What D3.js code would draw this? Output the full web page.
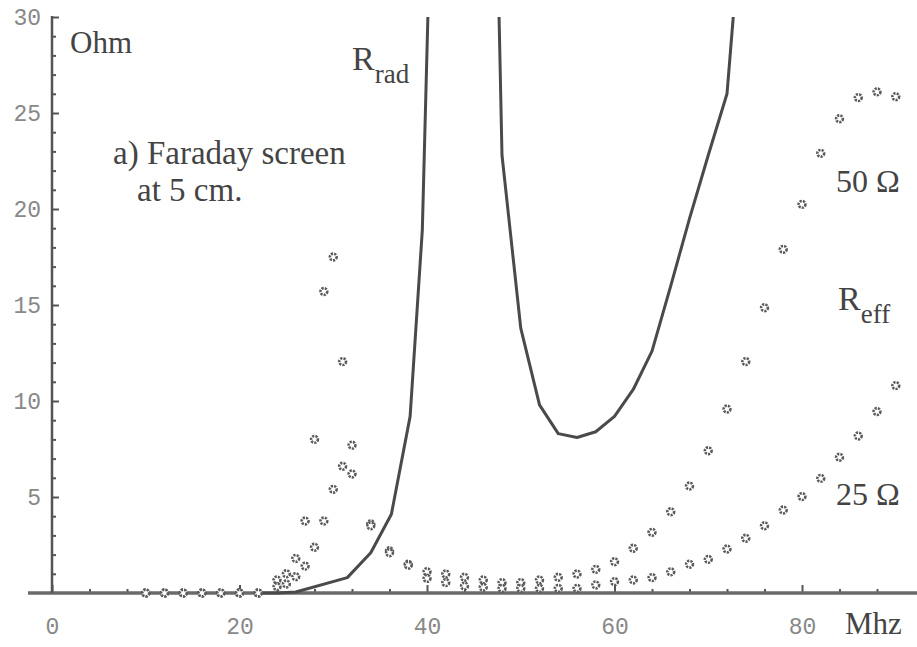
<!DOCTYPE html>
<html>
<head>
<meta charset="utf-8">
<script src="https://cdn.jsdelivr.net/npm/d3@7"></script>
<style>
  body { margin: 0; background: #fff; }
  svg { display: block; }
  .tick text { font-family: 'Liberation Mono', 'Courier New', monospace; font-size: 23px; fill: #888; }
  .lbl { font-family: 'Liberation Serif', 'Times New Roman', serif; fill: #444; }
</style>
</head>
<body>
<div id="chart"></div>
<script>
// frequencies (MHz) at which R_eff was computed
const freq = [10, 12, 14, 16, 18, 20, 22, 24, 25, 26, 27, 28, 29, 30, 31, 32,
  34, 36, 38, 40, 42, 44, 46, 48, 50, 52, 54, 56, 58, 60, 62, 64, 66, 68, 70,
  72, 74, 76, 78, 80, 82, 84, 86, 88, 90];

// R_eff, 50 Ohm load
const reff50 = [0, 0, 0, 0, 0, 0, 0, 0.68, 1.0, 1.8, 3.75, 8.0, 15.7, 17.5, 12.05, 7.7,
  3.6, 2.2, 1.5, 1.11, 0.99, 0.82, 0.68, 0.54, 0.54, 0.68, 0.82, 0.99, 1.23, 1.63, 2.33,
  3.16, 4.23, 5.57, 7.41, 9.58, 12.05, 14.86, 17.9, 20.24, 22.9, 24.7, 25.8, 26.1, 25.85];

// R_eff, 25 Ohm load
const reff25 = [0, 0, 0, 0, 0, 0, 0, 0.33, 0.47, 0.85, 1.4, 2.38, 3.75, 5.4, 6.6, 6.2,
  3.5, 2.1, 1.45, 0.76, 0.54, 0.36, 0.3, 0.24, 0.24, 0.24, 0.24, 0.24, 0.42, 0.59, 0.68,
  0.8, 1.1, 1.5, 1.75, 2.29, 2.85, 3.5, 4.32, 5.02, 5.97, 7.07, 8.18, 9.45, 10.8];

// R_rad, below and above the resonance
const radFreqLow = [22, 24, 26, 31.5, 34, 36.2, 38.2, 39.5, 40.2];
const radLow = [0, 0, 0.05, 0.8, 2.1, 4.1, 9.2, 18.9, 32];
const radFreqHigh = [47.6, 48, 50, 52, 54, 56, 58, 60, 62, 64, 66, 68, 70, 72, 73];
const radHigh = [32, 22.8, 13.8, 9.8, 8.3, 8.1, 8.4, 9.2, 10.6, 12.6, 16.0, 19.5, 22.8, 26.0, 32];

const xTicks = [0, 20, 40, 60, 80];
const yTicks = [5, 10, 15, 20, 25, 30];

const W = 917, H = 647;
const x0 = 52, y0 = 593;

const x = d3.scaleLinear().domain([0, 80]).range([x0, x0 + 750]);
const y = d3.scaleLinear().domain([0, 30]).range([y0, 17]);

const svg = d3.select('#chart').append('svg').attr('width', W).attr('height', H);

// axes
const xMinor = d3.range(4, 89, 4).filter(v => v % 20 !== 0);
const yMinor = d3.range(1, 30, 1).filter(v => v % 5 !== 0);

const gx = svg.append('g').attr('transform', `translate(0,${y0})`);
gx.call(d3.axisBottom(x).tickValues(xMinor).tickSizeInner(-4).tickSizeOuter(0).tickFormat(''));
gx.select('.domain').remove();
const gxMaj = svg.append('g').attr('transform', `translate(0,${y0})`);
gxMaj.call(d3.axisBottom(x).tickValues(xTicks).tickSizeInner(-8).tickSizeOuter(0).tickPadding(25));
gxMaj.select('.domain').remove();

const gy = svg.append('g').attr('transform', `translate(${x0},0)`);
gy.call(d3.axisLeft(y).tickValues(yMinor).tickSizeInner(-4).tickSizeOuter(0).tickFormat(''));
gy.select('.domain').remove();
const gyMaj = svg.append('g').attr('transform', `translate(${x0},0)`);
gyMaj.call(d3.axisLeft(y).tickValues(yTicks).tickSizeInner(-7).tickSizeOuter(0).tickPadding(11));
gyMaj.select('.domain').remove();

svg.selectAll('.tick line').attr('stroke', '#555').attr('stroke-width', 2);

svg.append('line')
  .attr('x1', 28).attr('x2', W).attr('y1', y0).attr('y2', y0)
  .attr('stroke', '#6a6a6a').attr('stroke-width', 3.5);
svg.append('line')
  .attr('x1', x0).attr('x2', x0).attr('y1', y(30) - 1).attr('y2', y0)
  .attr('stroke', '#555').attr('stroke-width', 2.5);

// R_rad curve
svg.append('clipPath').attr('id', 'plot')
  .append('rect').attr('x', x0).attr('y', y(30)).attr('width', W - x0).attr('height', y0 - y(30) + 2);

const line = d3.line().x(d => x(d[0])).y(d => y(d[1]));
[[radFreqLow, radLow], [radFreqHigh, radHigh]].forEach(([fs, vs]) => {
  svg.append('path')
    .datum(fs.map((f, i) => [f, vs[i]]))
    .attr('clip-path', 'url(#plot)')
    .attr('fill', 'none')
    .attr('stroke', '#4a4a4a')
    .attr('stroke-width', 3)
    .attr('stroke-linejoin', 'round')
    .attr('d', line);
});

// R_eff markers
const drawMarkers = vals => {
  svg.append('g').selectAll('circle')
    .data(freq.map((f, i) => [f, vals[i]]))
    .enter()
    .append('circle')
    .attr('cx', d => x(d[0]))
    .attr('cy', d => y(d[1]))
    .attr('r', 3.4)
    .attr('fill', '#fff')
    .attr('stroke', '#5a5a5a')
    .attr('stroke-width', 2.6)
    .attr('stroke-dasharray', '2.2 1.1');
};
drawMarkers(reff50);
drawMarkers(reff25);

// labels
const text = (tx, ty, size, str) =>
  svg.append('text').attr('class', 'lbl').attr('x', tx).attr('y', ty)
    .style('font-size', size + 'px').text(str);

text(70, 53, 31, 'Ohm');
text(113, 164, 33, 'a) Faraday screen');
text(137, 201, 33, 'at 5 cm.');
text(845, 634, 31, 'Mhz');
text(836, 192, 32, '50 \u03A9');
text(836, 505, 32, '25 \u03A9');

const sub = (tx, ty, main, s) => {
  const t = svg.append('text').attr('class', 'lbl').attr('x', tx).attr('y', ty).style('font-size', '34px');
  t.append('tspan').text(main);
  t.append('tspan').attr('dy', 13).style('font-size', '27px').text(s);
};
sub(352, 70, 'R', 'rad');
sub(838, 310, 'R', 'eff');
</script>
</body>
</html>
